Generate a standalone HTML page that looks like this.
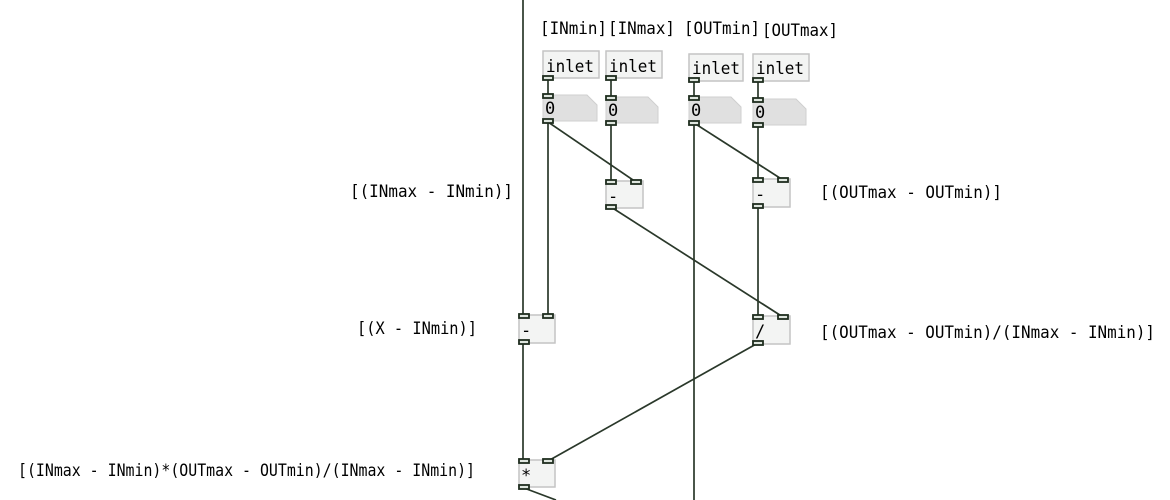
<!DOCTYPE html>
<html><head><meta charset="utf-8"><style>
html,body{margin:0;padding:0;background:#fff;}
svg{display:block;}
text{font-family:"DejaVu Sans Mono","Liberation Mono",monospace;font-size:17px;fill:#000;}
.box{fill:#f3f4f3;stroke:#c4c4c4;stroke-width:1.5;}
.nb{fill:#e0e0e0;stroke:#cfcfcf;stroke-width:1;}
.io{fill:#dfe6df;stroke:#1f2d1f;stroke-width:1.8;}
.w{stroke:#2a382a;stroke-width:1.7;fill:none;}
</style></head><body>
<svg width="1170" height="500" viewBox="0 0 1170 500" xmlns="http://www.w3.org/2000/svg">
<line class="w" x1="523" y1="0" x2="523" y2="316"/>
<line class="w" x1="548" y1="122" x2="548" y2="316"/>
<line class="w" x1="548" y1="122" x2="636" y2="182"/>
<line class="w" x1="611" y1="78" x2="611" y2="182"/>
<line class="w" x1="548" y1="78" x2="548" y2="96"/>
<line class="w" x1="694" y1="80" x2="694" y2="98"/>
<line class="w" x1="758" y1="80" x2="758" y2="100"/>
<line class="w" x1="694" y1="123" x2="694" y2="500"/>
<line class="w" x1="694" y1="123" x2="783" y2="180"/>
<line class="w" x1="758" y1="124" x2="758" y2="180"/>
<line class="w" x1="611" y1="207" x2="783" y2="317"/>
<line class="w" x1="758" y1="206" x2="758" y2="317"/>
<line class="w" x1="758" y1="343" x2="548" y2="461"/>
<line class="w" x1="523" y1="342" x2="523" y2="461"/>
<line class="w" x1="524" y1="488" x2="556" y2="500"/>

<text x="540" y="34" textLength="67" lengthAdjust="spacingAndGlyphs">[INmin]</text>
<text x="608" y="34" textLength="67" lengthAdjust="spacingAndGlyphs">[INmax]</text>
<text x="684" y="34" textLength="76" lengthAdjust="spacingAndGlyphs">[OUTmin]</text>
<text x="762" y="36" textLength="76" lengthAdjust="spacingAndGlyphs">[OUTmax]</text>

<rect class="box" x="543" y="51" width="56" height="27"/>
<text x="546" y="72" textLength="48" lengthAdjust="spacingAndGlyphs">inlet</text>
<rect class="box" x="606" y="51" width="56" height="27"/>
<text x="609" y="72" textLength="48" lengthAdjust="spacingAndGlyphs">inlet</text>
<rect class="box" x="689" y="54" width="54" height="27"/>
<text x="692" y="74" textLength="48" lengthAdjust="spacingAndGlyphs">inlet</text>
<rect class="box" x="753" y="54" width="56" height="27"/>
<text x="756" y="74" textLength="48" lengthAdjust="spacingAndGlyphs">inlet</text>
<rect class="io" x="543" y="76" width="10" height="4"/>
<rect class="io" x="606" y="76" width="10" height="4"/>
<rect class="io" x="689" y="78" width="10" height="4"/>
<rect class="io" x="753" y="78" width="10" height="4"/>

<polygon class="nb" points="543,95 587,95 597,105 597,121 543,121"/>
<text x="545" y="114">0</text>
<rect class="io" x="543" y="94" width="10" height="4"/><rect class="io" x="543" y="119" width="10" height="4"/>
<polygon class="nb" points="606,97 648,97 658,107 658,123 606,123"/>
<text x="608" y="116">0</text>
<rect class="io" x="606" y="96" width="10" height="4"/><rect class="io" x="606" y="121" width="10" height="4"/>
<polygon class="nb" points="689,97 731,97 741,107 741,123 689,123"/>
<text x="691" y="116">0</text>
<rect class="io" x="689" y="96" width="10" height="4"/><rect class="io" x="689" y="121" width="10" height="4"/>
<polygon class="nb" points="753,99 796,99 806,109 806,125 753,125"/>
<text x="755" y="118">0</text>
<rect class="io" x="753" y="98" width="10" height="4"/><rect class="io" x="753" y="123" width="10" height="4"/>

<rect class="box" x="606" y="181" width="37" height="27"/>
<text x="608" y="202">-</text>
<rect class="io" x="606" y="180" width="10" height="4"/><rect class="io" x="631" y="180" width="10" height="4"/><rect class="io" x="606" y="205" width="10" height="4"/>
<rect class="box" x="753" y="179" width="37" height="28"/>
<text x="755" y="200">-</text>
<rect class="io" x="753" y="178" width="10" height="4"/><rect class="io" x="778" y="178" width="10" height="4"/><rect class="io" x="753" y="204" width="10" height="4"/>

<rect class="box" x="519" y="315" width="36" height="28"/>
<text x="521" y="336">-</text>
<rect class="io" x="519" y="314" width="10" height="4"/><rect class="io" x="543" y="314" width="10" height="4"/><rect class="io" x="519" y="340" width="10" height="4"/>

<rect class="box" x="753" y="316" width="37" height="28"/>
<text x="755" y="337">/</text>
<rect class="io" x="753" y="315" width="10" height="4"/><rect class="io" x="778" y="315" width="10" height="4"/><rect class="io" x="753" y="341" width="10" height="4"/>

<rect class="box" x="519" y="460" width="36" height="27"/>
<text x="521" y="481">*</text>
<rect class="io" x="519" y="459" width="10" height="4"/><rect class="io" x="543" y="459" width="10" height="4"/><rect class="io" x="519" y="485" width="10" height="4"/>

<text x="350" y="197" textLength="163" lengthAdjust="spacingAndGlyphs">[(INmax - INmin)]</text>
<text x="820" y="198" textLength="182" lengthAdjust="spacingAndGlyphs">[(OUTmax - OUTmin)]</text>
<text x="357" y="334" textLength="120" lengthAdjust="spacingAndGlyphs">[(X - INmin)]</text>
<text x="820" y="338" textLength="335" lengthAdjust="spacingAndGlyphs">[(OUTmax - OUTmin)/(INmax - INmin)]</text>
<text x="18" y="476" textLength="457" lengthAdjust="spacingAndGlyphs">[(INmax - INmin)*(OUTmax - OUTmin)/(INmax - INmin)]</text>
</svg>
</body></html>
